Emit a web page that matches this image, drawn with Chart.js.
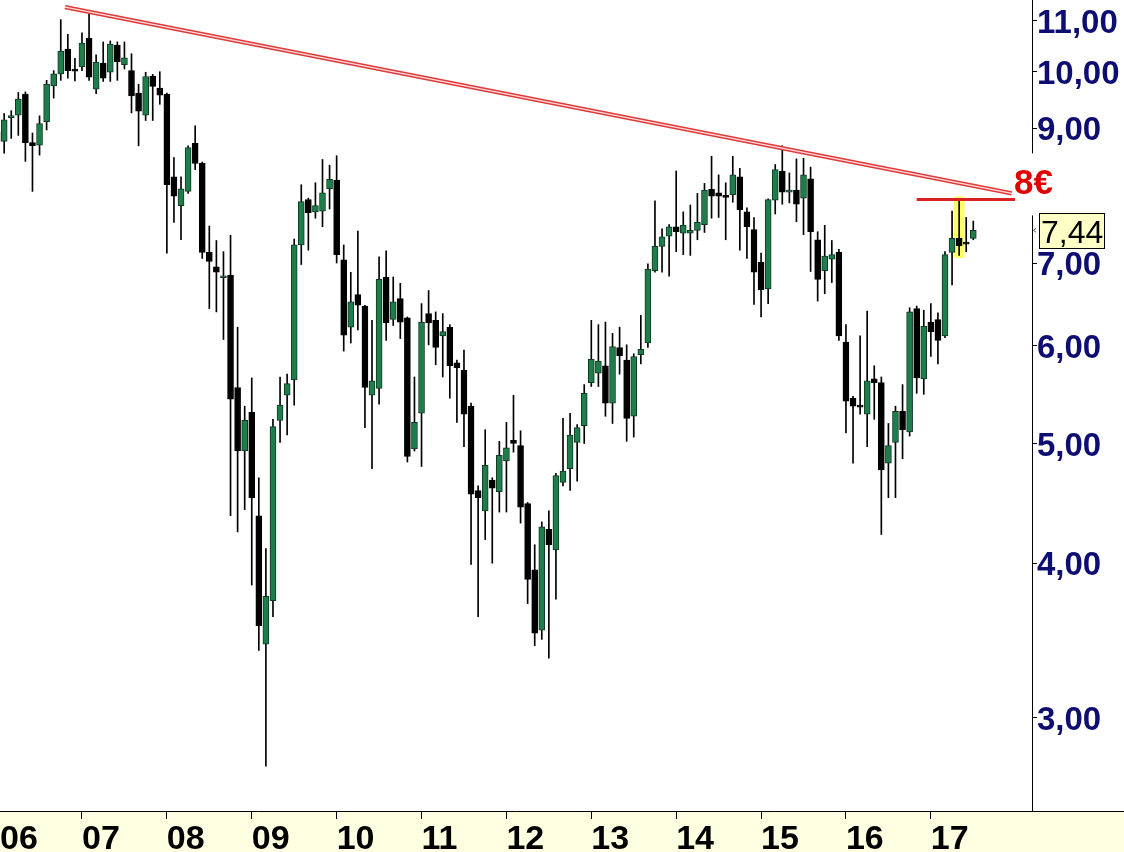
<!DOCTYPE html>
<html>
<head>
<meta charset="utf-8">
<script src="https://cdn.jsdelivr.net/npm/chart.js@4.4.1/dist/chart.umd.min.js"></script>
<style>
  html, body { margin: 0; padding: 0; background: #fff; }
  #wrap { width: 1124px; height: 852px; }
</style>
</head>
<body>
<div id="wrap"><canvas id="chart" width="1124" height="852"></canvas></div>
<script>
// monthly candles, index 0 = Jan 2006 ... index 138 = Jul 2017
const opens = [
  8.94, 8.78, 9.18, 9.22, 9.59, 8.76, 8.72, 9.11, 9.74, 9.96,
  10.43, 10.03, 10.09, 10.64, 9.68, 10.16, 9.99, 10.51, 10.13, 10.02,
  9.61, 9.22, 9.92, 9.70, 9.59, 8.22, 7.79, 8.00, 8.75, 8.43,
  7.14, 6.95, 6.81, 6.84, 5.55, 4.93, 5.30, 4.37, 3.44, 3.73,
  5.22, 5.47, 5.63, 7.24, 7.88, 7.70, 7.71, 8.04, 8.17, 7.04,
  6.21, 6.60, 6.46, 5.47, 5.54, 6.82, 6.30, 6.55, 6.32, 4.95,
  5.29, 6.37, 6.29, 6.11, 6.21, 5.81, 5.73, 5.36, 4.58, 4.41,
  4.67, 4.57, 4.84, 5.03, 4.98, 4.47, 3.95, 3.53, 4.26, 4.10,
  4.65, 4.77, 5.01, 5.17, 5.60, 5.70, 5.78, 5.39, 5.98, 5.84,
  5.26, 5.90, 6.03, 6.90, 7.22, 7.36, 7.49, 7.40, 7.40, 7.44,
  7.52, 8.03, 7.98, 7.93, 7.95, 8.22, 7.70, 7.45, 7.01, 6.67,
  7.87, 8.31, 7.99, 8.02, 7.90, 8.19, 7.31, 6.90, 7.05, 7.14,
  6.04, 5.44, 5.36, 5.28, 5.64, 5.60, 4.82, 5.01, 5.31, 5.11,
  6.43, 5.64, 6.27, 6.30, 6.11, 7.14, 7.33, 7.27, 7.33
];
const highs = [
  9.07, 9.25, 9.30, 9.62, 9.63, 8.92, 9.21, 9.84, 10.02, 11.02,
  10.72, 10.25, 10.75, 11.17, 10.32, 10.57, 10.59, 10.57, 10.57, 10.34,
  9.77, 9.99, 9.95, 10.00, 9.61, 8.52, 8.22, 8.71, 9.04, 8.45,
  7.50, 7.30, 7.15, 7.37, 6.21, 5.36, 5.65, 4.69, 4.11, 5.23,
  5.66, 5.69, 7.32, 8.10, 7.90, 8.13, 8.49, 8.40, 8.55, 7.24,
  6.88, 7.43, 6.47, 6.29, 7.08, 7.16, 6.82, 6.74, 6.33, 5.66,
  6.49, 6.65, 6.39, 6.37, 6.24, 5.84, 5.95, 5.39, 4.62, 5.13,
  4.69, 5.02, 5.20, 5.47, 5.12, 4.48, 4.14, 4.32, 4.41, 4.73,
  5.24, 5.29, 5.18, 5.58, 6.29, 6.24, 6.27, 6.14, 6.21, 6.01,
  5.91, 6.35, 6.99, 7.86, 7.46, 7.52, 8.31, 7.70, 7.80, 7.97,
  8.12, 8.54, 8.25, 8.13, 8.54, 8.35, 7.76, 7.62, 7.13, 7.89,
  8.41, 8.71, 8.28, 8.50, 8.51, 8.37, 7.42, 7.51, 7.30, 7.18,
  6.24, 5.46, 6.11, 6.40, 5.78, 5.66, 5.19, 5.36, 5.58, 6.44,
  6.46, 6.41, 6.49, 6.38, 7.15, 7.71, 7.88, 7.62, 7.57
];
const lows = [
  8.03, 8.59, 8.83, 8.88, 8.46, 8.00, 8.56, 8.97, 9.52, 9.84,
  9.88, 9.83, 10.02, 9.84, 9.60, 9.82, 9.82, 9.84, 10.05, 9.26,
  8.71, 9.13, 9.13, 9.41, 7.13, 7.55, 7.31, 7.97, 8.33, 7.06,
  6.43, 6.39, 6.07, 4.37, 4.24, 4.42, 3.84, 3.40, 2.74, 3.62,
  5.01, 5.08, 5.37, 6.98, 7.17, 7.61, 7.49, 7.74, 7.00, 5.94,
  6.03, 6.18, 5.15, 4.77, 5.38, 6.06, 6.23, 6.08, 4.83, 4.93,
  4.79, 6.01, 5.79, 5.66, 5.44, 5.20, 4.97, 3.99, 3.62, 4.18,
  4.00, 4.40, 4.40, 4.92, 4.31, 3.71, 3.43, 3.47, 3.35, 3.74,
  4.62, 4.58, 4.66, 5.00, 5.56, 5.56, 5.26, 5.19, 5.69, 5.02,
  5.06, 5.80, 5.98, 6.88, 6.88, 6.83, 7.15, 7.11, 7.10, 7.31,
  7.41, 7.61, 7.62, 7.31, 7.84, 7.17, 7.06, 6.48, 6.33, 6.49,
  7.67, 7.81, 7.83, 7.56, 7.38, 6.89, 6.52, 6.61, 6.75, 6.06,
  5.10, 4.82, 5.28, 4.97, 5.23, 4.22, 4.52, 4.52, 4.86, 5.07,
  5.49, 5.48, 5.88, 5.80, 6.09, 6.72, 7.10, 7.15, 7.31
];
const closes = [
  8.78, 9.14, 9.21, 9.50, 8.76, 8.71, 9.08, 9.77, 9.96, 10.39,
  10.02, 10.01, 10.55, 9.90, 10.18, 9.88, 10.53, 10.19, 10.26, 9.56,
  9.29, 9.91, 9.73, 9.57, 8.10, 7.93, 8.04, 8.68, 8.43, 7.14,
  7.02, 6.88, 6.83, 5.43, 4.93, 5.22, 4.52, 3.56, 3.76, 5.16,
  5.37, 5.59, 7.24, 7.85, 7.69, 7.79, 7.98, 8.18, 7.11, 6.12,
  6.51, 6.47, 5.55, 5.62, 6.79, 6.26, 6.51, 6.27, 4.88, 5.20,
  6.27, 6.26, 5.98, 6.16, 5.78, 5.76, 5.28, 4.55, 4.52, 4.80,
  4.60, 4.89, 4.96, 5.00, 4.44, 3.88, 3.51, 4.28, 4.14, 4.71,
  4.75, 5.08, 5.15, 5.49, 5.85, 5.83, 5.39, 5.99, 5.89, 5.24,
  5.88, 5.96, 6.92, 7.22, 7.35, 7.49, 7.42, 7.51, 7.44, 7.55,
  8.02, 7.93, 7.93, 7.91, 8.25, 7.73, 7.49, 6.88, 6.66, 7.88,
  8.33, 7.99, 8.00, 7.81, 8.25, 7.42, 6.79, 7.09, 7.11, 6.11,
  5.41, 5.36, 5.35, 5.62, 5.60, 4.76, 4.98, 5.31, 5.13, 6.39,
  5.65, 6.22, 6.16, 6.06, 7.11, 7.33, 7.23, 7.25, 7.44
];
const yearLabels = ['06', '07', '08', '09', '10', '11', '12', '13', '14', '15', '16', '17'];
const priceTicks = [3, 4, 5, 6, 7, 9, 10, 11];

// drawn lines: long-term trendline and the 8 EUR resistance
const trendX = [9.6, 143.45];
const trendY = [11.28, 7.97];
const resistX = [130.0, 143.9];
const resistY = [7.88, 7.88];
const markedMonth = 136;
const markedRange = [7.07, 7.92];
const lastPrice = 7.44;

const xMin = 0.41, xMax = 146.3;
const yMin = 2.52, yMax = 11.43;

const GREEN = '#1d7d4b';
const GREEN_EDGE = '#113a22';
const NAVY = '#0e0e72';

const idx = opens.map((_, i) => i);
const isUp = idx.map(i => closes[i] > opens[i]);

const decorPlugin = {
  id: 'decor',
  beforeDraw(chart) {
    const { ctx, chartArea } = chart;
    ctx.save();
    ctx.fillStyle = '#fff';
    ctx.fillRect(0, 0, chart.width, chart.height);
    ctx.fillStyle = '#ffffe1';
    ctx.fillRect(0, chartArea.bottom, chart.width, chart.height - chartArea.bottom);
    ctx.restore();
  },
  afterDraw(chart) {
    const { ctx, chartArea, scales } = chart;
    const yS = scales.y;
    ctx.save();
    // bottom axis line continues under the price axis
    ctx.strokeStyle = '#000';
    ctx.lineWidth = 1;
    ctx.beginPath();
    ctx.moveTo(chartArea.right, Math.round(chartArea.bottom) + 0.5);
    ctx.lineTo(chart.width, Math.round(chartArea.bottom) + 0.5);
    ctx.stroke();

    // "8€" note sits where the 8,00 tick would be
    const y8 = yS.getPixelForValue(8);
    ctx.fillStyle = '#fff';
    ctx.fillRect(chartArea.right - 3, y8 - 38, 8, 62);
    ctx.fillStyle = '#e00000';
    ctx.font = 'bold 35px "Liberation Sans", Arial, sans-serif';
    ctx.textBaseline = 'alphabetic';
    ctx.textAlign = 'left';
    ctx.fillText('8€', 1014, y8 + 3);

    // last price box
    const yp = yS.getPixelForValue(lastPrice);
    ctx.fillStyle = '#ffffc6';
    ctx.fillRect(1039.5, Math.round(yp) - 16.5, 65, 35);
    ctx.strokeStyle = '#000';
    ctx.strokeRect(1039.5, Math.round(yp) - 16.5, 65, 35);
    ctx.fillStyle = '#000';
    ctx.font = '32px "Liberation Sans", Arial, sans-serif';
    ctx.fillText('7,44', 1041, Math.round(yp) + 13);
    ctx.strokeStyle = '#555';
    ctx.beginPath();
    ctx.moveTo(1036, yp - 2);
    ctx.lineTo(1033.5, yp);
    ctx.lineTo(1036, yp + 2);
    ctx.stroke();
    ctx.restore();
  }
};

new Chart(document.getElementById('chart'), {
  type: 'bar',
  data: {
    datasets: [
      {
        type: 'line',
        data: trendX.map((x, i) => ({ x: x, y: trendY[i] })),
        borderColor: '#ffdede',
        borderWidth: 1.4,
        pointRadius: 0,
        order: 1
      },
      {
        type: 'line',
        data: trendX.map((x, i) => ({ x: x, y: trendY[i] })),
        borderColor: '#e03a3a',
        borderWidth: 4.2,
        pointRadius: 0,
        order: 2
      },
      {
        type: 'line',
        data: resistX.map((x, i) => ({ x: x, y: resistY[i] })),
        borderColor: '#d82222',
        borderWidth: 3,
        pointRadius: 0,
        order: 3
      },
      {
        // candle bodies
        data: idx.map(i => ({ x: i, y: [opens[i], closes[i]] })),
        backgroundColor: idx.map(i => isUp[i] ? GREEN : '#000'),
        borderColor: idx.map(i => isUp[i] ? GREEN_EDGE : '#000'),
        borderWidth: 1,
        borderSkipped: false,
        barThickness: 6,
        minBarLength: 2,
        grouped: false,
        order: 4
      },
      {
        // wicks
        data: idx.map(i => ({ x: i, y: [lows[i], highs[i]] })),
        backgroundColor: '#000',
        borderWidth: 0,
        barThickness: 1,
        grouped: false,
        order: 5
      },
      {
        // highlighted month
        data: [{ x: markedMonth, y: markedRange }],
        backgroundColor: '#ffff6a',
        borderWidth: 0,
        barThickness: 10,
        grouped: false,
        order: 6
      }
    ]
  },
  options: {
    responsive: false,
    devicePixelRatio: 1,
    animation: false,
    layout: { padding: 0 },
    plugins: {
      legend: { display: false },
      tooltip: { enabled: false }
    },
    scales: {
      x: {
        type: 'linear',
        min: xMin,
        max: xMax,
        offset: false,
        grid: {
          display: true,
          drawOnChartArea: false,
          drawTicks: true,
          tickLength: 8,
          offset: false,
          color: ctx => ctx.index === 0 ? 'rgba(0,0,0,0)' : '#000'
        },
        border: { display: true, color: '#000', width: 1 },
        ticks: {
          autoSkip: false,
          maxRotation: 0,
          align: 'start',
          padding: 0,
          color: '#000',
          font: { family: '"Liberation Sans Narrow", "Arial Narrow", "Liberation Sans", sans-serif', size: 34, weight: 'bold' },
          callback: v => yearLabels[Math.floor(v / 12)]
        },
        afterBuildTicks: scale => {
          scale.ticks = [xMin].concat(yearLabels.slice(1).map((_, i) => (i + 1) * 12)).map(v => ({ value: v }));
        },
        afterFit: scale => {
          scale.height = 41;
          scale.paddingLeft = 0;
          scale.paddingRight = 0;
        }
      },
      y: {
        type: 'logarithmic',
        position: 'right',
        min: yMin,
        max: yMax,
        grid: { drawOnChartArea: false, tickLength: 5, color: '#000' },
        border: { display: true, color: '#000', width: 1 },
        ticks: {
          autoSkip: false,
          padding: 0,
          labelOffset: 3,
          color: NAVY,
          font: { family: '"Liberation Sans", Arial, sans-serif', size: 33, weight: 'bold' },
          callback: v => Number(v).toFixed(2).replace('.', ',')
        },
        afterBuildTicks: scale => {
          scale.ticks = priceTicks.map(v => ({ value: v }));
        },
        afterFit: scale => {
          scale.width = 92;
          scale.paddingTop = 0;
          scale.paddingBottom = 0;
        }
      }
    }
  },
  plugins: [decorPlugin]
});
</script>
</body>
</html>
